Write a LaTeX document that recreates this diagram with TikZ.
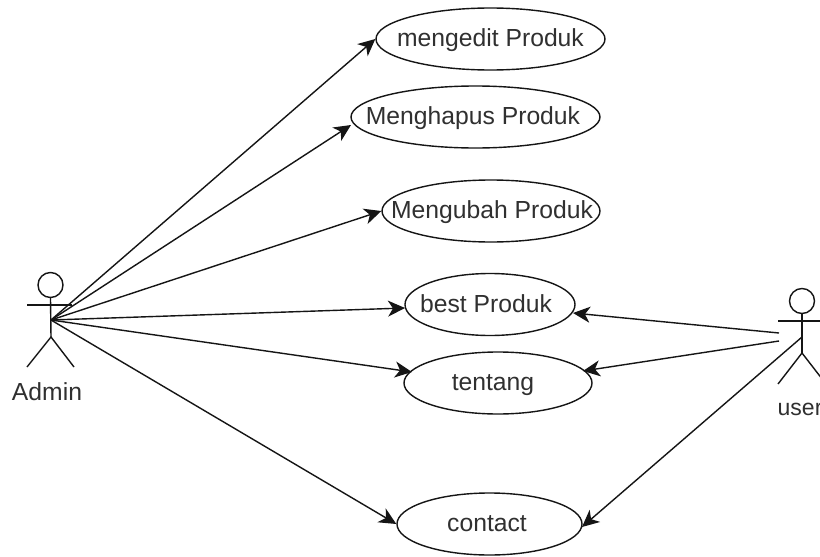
\documentclass[tikz,border=0pt]{standalone}
\usepackage{fontspec}
\setmainfont{Liberation Sans}
\usetikzlibrary{arrows.meta,shapes.geometric}
\definecolor{ink}{HTML}{151515}
\definecolor{txt}{HTML}{303030}
\newcommand{\ucase}[2]{\makebox[0pt][c]{\kern#1\raisebox{-7.9pt}[0pt][0pt]{#2}}}
\tikzset{
  usecase/.style={draw=ink,line width=1.4pt,ellipse,inner sep=0pt,minimum height=62pt,text=txt,font=\fontsize{24.7}{27}\selectfont},
  flow/.style={draw=ink,line width=1.4pt,-{Stealth[length=17pt,width=16pt,inset=5pt]}},
  limb/.style={draw=ink,line width=1.4pt},
  head/.style={draw=ink,line width=1.4pt,circle,inner sep=0pt,minimum size=25pt},
  actorlabel/.style={text=txt,inner sep=0pt,font=\fontsize{24.7}{27}\selectfont}
}
\begin{document}
\begin{tikzpicture}[x=1pt,y=-1pt]
\clip (0,0) rectangle (820,557);
\fill[white] (0,0) rectangle (820,557);
% use cases
\node[usecase,minimum width=229pt] (edit) at (490.5,39) {\ucase{0pt}{mengedit Produk}};
\node[usecase,minimum width=249pt] (hapus) at (475.5,117) {\ucase{-5pt}{Menghapus Produk}};
\node[usecase,minimum width=218pt] (ubah) at (491,211) {\ucase{2pt}{Mengubah Produk}};
\node[usecase,minimum width=170pt] (best) at (490,304.5) {\ucase{-8pt}{best Produk}};
\node[usecase,minimum width=188pt] (tentang) at (498,383) {\ucase{-10pt}{tentang}};
\node[usecase,minimum width=185pt] (contact) at (489.5,524) {\ucase{-5pt}{contact}};
% Admin actor
\node[head] (ahead) at (50.5,285) {};
\coordinate (ahub) at (51,320);
\coordinate (ahip) at (51,337);
\coordinate (aarmL) at (27,305);
\coordinate (aarmR) at (72,305);
\coordinate (alegL) at (27,367);
\coordinate (alegR) at (74,367);
\draw[limb] (ahead.south) -- (ahip);
\draw[limb] (aarmL) -- (aarmR);
\draw[limb] (alegL) -- (ahip) -- (alegR);
\node[actorlabel] (alabel) at (47,391.5) {Admin};
% user actor
\node[head] (uhead) at (802,301) {};
\coordinate (uhip) at (802,353);
\coordinate (uarmL) at (778,321);
\coordinate (uarmR) at (826,321);
\coordinate (ulegL) at (778,384);
\coordinate (ulegR) at (826,384);
\coordinate (uA) at (779,333);
\coordinate (uB) at (779,341);
\coordinate (uC) at (802,337);
\draw[limb] (uhead.south) -- (uhip);
\draw[limb] (uarmL) -- (uarmR);
\draw[limb] (ulegL) -- (uhip) -- (ulegR);
\node[actorlabel,anchor=base west,font=\fontsize{23}{26}\selectfont] (ulabel) at (777.5,415.5) {user};
% arrow tips
\coordinate (tHapus) at (351,125);
\coordinate (tBest) at (405,308);
\coordinate (tTent) at (412,372);
\coordinate (tBestR) at (573,313);
\coordinate (tTentR) at (583,371);
\coordinate (tContR) at (582,527);
% connectors
\draw[flow] (ahub) -- (edit.west);
\draw[flow] (ahub) -- (tHapus);
\draw[flow] (ahub) -- (ubah.west);
\draw[flow] (ahub) -- (tBest);
\draw[flow] (ahub) -- (tTent);
\draw[flow] (ahub) -- (contact.west);
\draw[flow] (uA) -- (tBestR);
\draw[flow] (uB) -- (tTentR);
\draw[flow] (uC) -- (tContR);
\end{tikzpicture}
\end{document}
